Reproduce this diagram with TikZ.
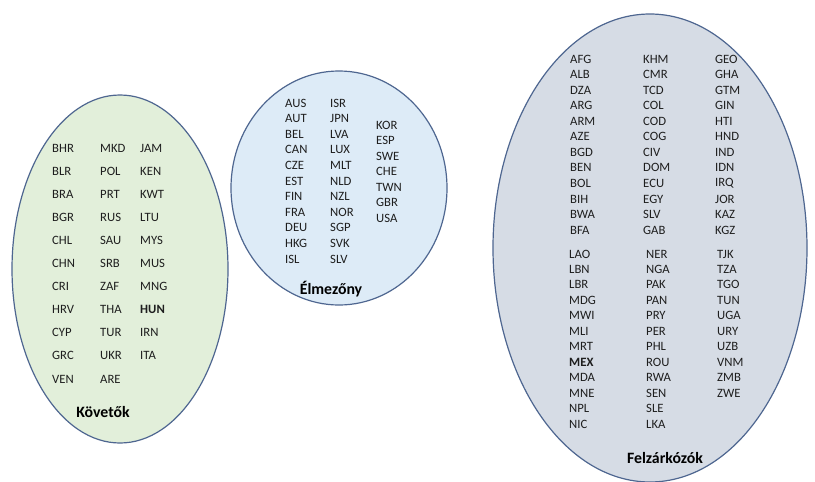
\documentclass[tikz,border=0pt]{standalone}
\usepackage{fontspec}
\setmainfont{Carlito}
\definecolor{outl}{HTML}{4E6690}
\definecolor{gfill}{HTML}{E2EFDA}
\definecolor{bfill}{HTML}{DDEBF7}
\definecolor{cfill}{HTML}{D6DCE5}
\definecolor{txt}{HTML}{1E1E1E}
\begin{document}
\begin{tikzpicture}[x=1pt,y=-1pt,
  item/.style={anchor=west,inner sep=0pt,text=txt,font=\fontsize{12.7}{14}\selectfont},
  grouplabel/.style={inner sep=0pt,text=black,font=\fontsize{15.8}{18}\selectfont\bfseries},
  blob/.style={draw=outl,line width=1.2pt}]
\useasboundingbox (0,0) rectangle (815,482);
% ellipses
\path[blob,fill=gfill] (120,269) ellipse [x radius=108, y radius=174];
\path[blob,fill=bfill] (339,188) ellipse [x radius=108, y radius=117];
\path[blob,fill=cfill] (650,248) ellipse [x radius=157, y radius=234];
% Kovetok
\foreach \t [count=\i] in {BHR,BLR,BRA,BGR,CHL,CHN,CRI,HRV,CYP,GRC,VEN}
  \node[item] (ka\i) at (52,{148+(\i-1)*23.1}) {\t};
\foreach \t [count=\i] in {MKD,POL,PRT,RUS,SAU,SRB,ZAF,THA,TUR,UKR,ARE}
  \node[item] (kb\i) at (100,{148+(\i-1)*23.1}) {\t};
\foreach \t [count=\i] in {JAM,KEN,KWT,LTU,MYS,MUS,MNG,\textbf{HUN},IRN,ITA}
  \node[item] (kc\i) at (140,{148+(\i-1)*23.1}) {\t};
\node[grouplabel] (klab) at (103,412) {Követők};
% Elmezony
\foreach \t [count=\i] in {AUS,AUT,BEL,CAN,CZE,EST,FIN,FRA,DEU,HKG,ISL}
  \node[item] (ea\i) at (285,{103+(\i-1)*15.6}) {\t};
\foreach \t [count=\i] in {ISR,JPN,LVA,LUX,MLT,NLD,NZL,NOR,SGP,SVK,SLV}
  \node[item] (eb\i) at (330,{103+(\i-1)*15.6}) {\t};
\foreach \t [count=\i] in {KOR,ESP,SWE,CHE,TWN,GBR,USA}
  \node[item] (ec\i) at (376,{125+(\i-1)*15.5}) {\t};
\node[grouplabel] (elab) at (331,289) {Élmezőny};
% Felzarkozok
\foreach \t [count=\i] in {AFG,ALB,DZA,ARG,ARM,AZE,BGD,BEN,BOL,BIH,BWA,BFA}
  \node[item] (fa\i) at (570,{59+(\i-1)*15.55}) {\t};
\foreach \t [count=\i] in {KHM,CMR,TCD,COL,COD,COG,CIV,DOM,ECU,EGY,SLV,GAB}
  \node[item] (fb\i) at (643,{59+(\i-1)*15.55}) {\t};
\foreach \t [count=\i] in {GEO,GHA,GTM,GIN,HTI,HND,IND,IDN,IRQ,JOR,KAZ,KGZ}
  \node[item] (fc\i) at (715,{59+(\i-1)*15.55}) {\t};
\foreach \t [count=\i] in {LAO,LBN,LBR,MDG,MWI,MLI,MRT,\textbf{MEX},MDA,MNE,NPL,NIC}
  \node[item] (fd\i) at (569,{254+(\i-1)*15.45}) {\t};
\foreach \t [count=\i] in {NER,NGA,PAK,PAN,PRY,PER,PHL,ROU,RWA,SEN,SLE,LKA}
  \node[item] (fe\i) at (646,{254+(\i-1)*15.45}) {\t};
\foreach \t [count=\i] in {TJK,TZA,TGO,TUN,UGA,URY,UZB,VNM,ZMB,ZWE}
  \node[item] (ff\i) at (717,{254+(\i-1)*15.45}) {\t};
\node[grouplabel] (flab) at (665,458) {Felzárkózók};
\end{tikzpicture}
\end{document}
